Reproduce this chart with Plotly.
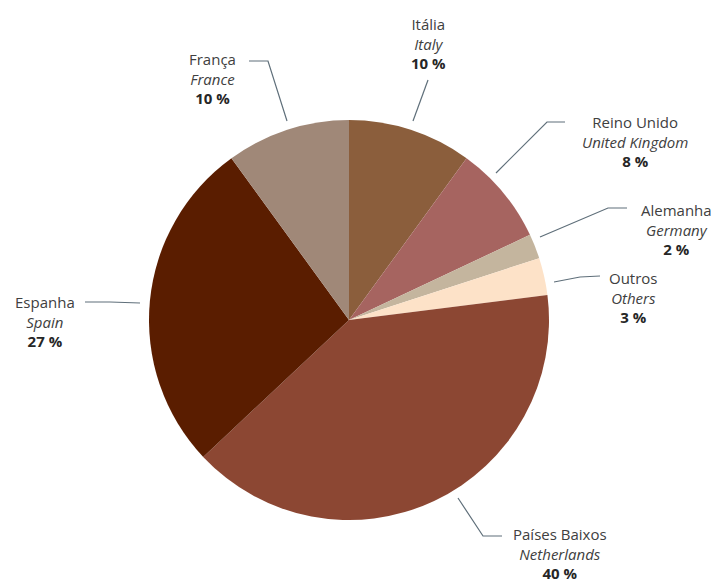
import plotly.graph_objects as go

W, H = 719, 585
OFF = 8  # page body margin

labels_pt = ['Itália', 'Reino Unido', 'Alemanha', 'Outros', 'Países Baixos', 'Espanha', 'França']
labels_en = ['Italy', 'United Kingdom', 'Germany', 'Others', 'Netherlands', 'Spain', 'France']
shares = [10, 8, 2, 3, 40, 27, 10]
colors = ['#8B5E3C', '#A66460', '#C4B59E', '#FDE2C8', '#8C4733', '#5A1D00', '#A08878']

# label block centres (pixels) and leader line paths (pixels)
label_pos = [(428, 43), (635, 142), (676, 229), (633, 297), (560, 553), (45, 321), (212, 78)]
leaders = [
    [(428, 80), (413, 121)],
    [(565, 122), (547, 122), (496, 173)],
    [(627, 208), (608, 208), (540, 237)],
    [(600, 276), (580, 277), (554, 282)],
    [(502, 536), (483, 536), (458, 498)],
    [(85, 302), (110, 302), (140, 303)],
    [(249, 61), (268, 61), (287, 121)],
]


def px(x, y):
    return (x - OFF) / W, 1 - (y - OFF) / H


x0, y0 = px(149, 520)
x1, y1 = px(549, 120)

fig = go.Figure(go.Pie(
    labels=labels_en,
    values=shares,
    sort=False,
    direction='clockwise',
    rotation=0,
    marker=dict(colors=colors, line=dict(width=0)),
    textinfo='none',
    hoverinfo='label+percent',
    showlegend=False,
    domain=dict(x=[x0, x1], y=[y0, y1]),
))

annotations = []
for pt, en, v, (x, y) in zip(labels_pt, labels_en, shares, label_pos):
    ax, ay = px(x, y)
    annotations.append(dict(
        x=ax, y=ay, xref='paper', yref='paper',
        text=f"{pt}<br><i>{en}</i><br><b style='color:#262626'>{v} %</b>",
        showarrow=False, xanchor='center', yanchor='middle', align='center',
        font=dict(family='Open Sans', size=15, color='#404040'),
    ))

shapes = []
for path in leaders:
    d = ''
    for i, (x, y) in enumerate(path):
        a, b = px(x, y)
        d += ('M' if i == 0 else 'L') + f' {a} {b} '
    shapes.append(dict(type='path', path=d, xref='paper', yref='paper',
                       line=dict(color='#5F6F7A', width=1.2)))

fig.update_layout(
    width=W, height=H,
    margin=dict(l=0, r=0, t=0, b=0),
    paper_bgcolor='white',
    plot_bgcolor='white',
    annotations=annotations,
    shapes=shapes,
)

fig.write_html("out.html")
